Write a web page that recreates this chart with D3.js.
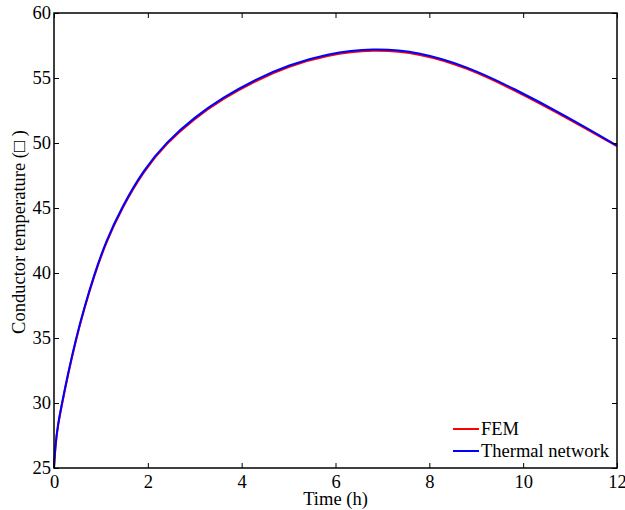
<!DOCTYPE html>
<html lang="en">
<head>
<meta charset="utf-8">
<title>Conductor temperature</title>
<script src="https://d3js.org/d3.v7.min.js"></script>
<style>
  body { margin: 0; background: #fff; }
  text { font-family: "Liberation Serif", "Times New Roman", serif; fill: #000; }
</style>
</head>
<body>
<div id="chart"></div>
<script>
// time in hours
var timeH = [0, 0.03, 0.08, 0.17, 0.3, 0.47, 0.65, 0.85, 1.1, 1.45, 1.9, 2.4, 3.0, 3.6, 4.3, 5.0, 5.8, 6.8, 7.8, 8.8, 9.8, 10.9, 12];
// thermal network result
var thermalNet = [25, 26.8, 28.3, 30, 32.3, 35, 37.4, 39.8, 42.4, 45.1, 47.9, 50.1, 52.0, 53.5, 54.9, 56.0, 56.85, 57.32, 57.0, 55.9, 54.2, 52.1, 49.8];
// FEM result (slightly under the network curve)
var fem = [25, 26.7, 28.2, 29.9, 32.2, 34.9, 37.3, 39.7, 42.3, 45.0, 47.8, 50.0, 51.9, 53.4, 54.8, 55.9, 56.75, 57.22, 56.9, 55.8, 54.1, 52.0, 49.75];

var xTicks = [0, 2, 4, 6, 8, 10, 12];
var yTicks = [25, 30, 35, 40, 45, 50, 55, 60];

var w = 625, h = 510;
var margin = {top: 13, right: 8, bottom: 42, left: 54};
var iw = w - margin.left - margin.right;
var ih = h - margin.top - margin.bottom;
var fs = '18.5px';

var svg = d3.select('#chart').append('svg').attr('width', w).attr('height', h);
var g = svg.append('g').attr('transform', 'translate(' + margin.left + ',' + margin.top + ')');

var x = d3.scaleLinear().domain([0, 12]).range([0, iw]);
var y = d3.scaleLinear().domain([25, 60]).range([ih, 0]);

// curves
var line = d3.line().x(function(d){ return x(d[0]); }).y(function(d){ return y(d[1]); }).curve(d3.curveBasis);
var femData = timeH.map(function(t, i){ return [t, fem[i]]; });
var netData = timeH.map(function(t, i){ return [t, thermalNet[i]]; });

g.append('path').datum(femData).attr('d', line).attr('fill', 'none').attr('stroke', '#ff0000').attr('stroke-width', 2);
g.append('path').datum(netData).attr('d', line).attr('fill', 'none').attr('stroke', '#0000ff').attr('stroke-width', 2);

// axes, matlab style: ticks inward on all sides
var tickLen = 5;
function styleAxis(sel) {
  sel.select('.domain').remove();
  sel.selectAll('line').attr('stroke', '#000').attr('stroke-width', 1);
  sel.selectAll('text').style('font-size', fs).style('font-family', '"Liberation Serif", serif');
}
g.append('g').attr('transform', 'translate(0,' + ih + ')')
  .call(d3.axisBottom(x).tickValues(xTicks).tickSize(-tickLen).tickPadding(7)).call(styleAxis);
g.append('g')
  .call(d3.axisTop(x).tickValues(xTicks).tickSize(-tickLen).tickFormat('')).call(styleAxis);
g.append('g')
  .call(d3.axisLeft(y).tickValues(yTicks).tickSize(-tickLen).tickPadding(3)).call(styleAxis);
g.append('g').attr('transform', 'translate(' + iw + ',0)')
  .call(d3.axisRight(y).tickValues(yTicks).tickSize(-tickLen).tickFormat('')).call(styleAxis);

g.append('rect').attr('x', 0).attr('y', 0).attr('width', iw).attr('height', ih)
  .attr('fill', 'none').attr('stroke', '#000').attr('stroke-width', 1.5);

// axis labels
svg.append('text').attr('x', margin.left + iw / 2).attr('y', 505)
  .attr('text-anchor', 'middle').style('font-size', fs).text('Time (h)');
svg.append('text').attr('transform', 'translate(25,232) rotate(-90)')
  .attr('text-anchor', 'middle').style('font-size', fs).text('Conductor temperature (\u25A1 )');

// legend
var legendItems = [{name: 'FEM', color: '#ff0000'}, {name: 'Thermal network', color: '#0000ff'}];
var lg = svg.append('g').attr('transform', 'translate(453,429)');
legendItems.forEach(function(it, i) {
  lg.append('line').attr('x1', 0).attr('x2', 26).attr('y1', i * 22).attr('y2', i * 22)
    .attr('stroke', it.color).attr('stroke-width', 2);
  lg.append('text').attr('x', 28).attr('y', i * 22 + 6).style('font-size', fs).text(it.name);
});
</script>
</body>
</html>
